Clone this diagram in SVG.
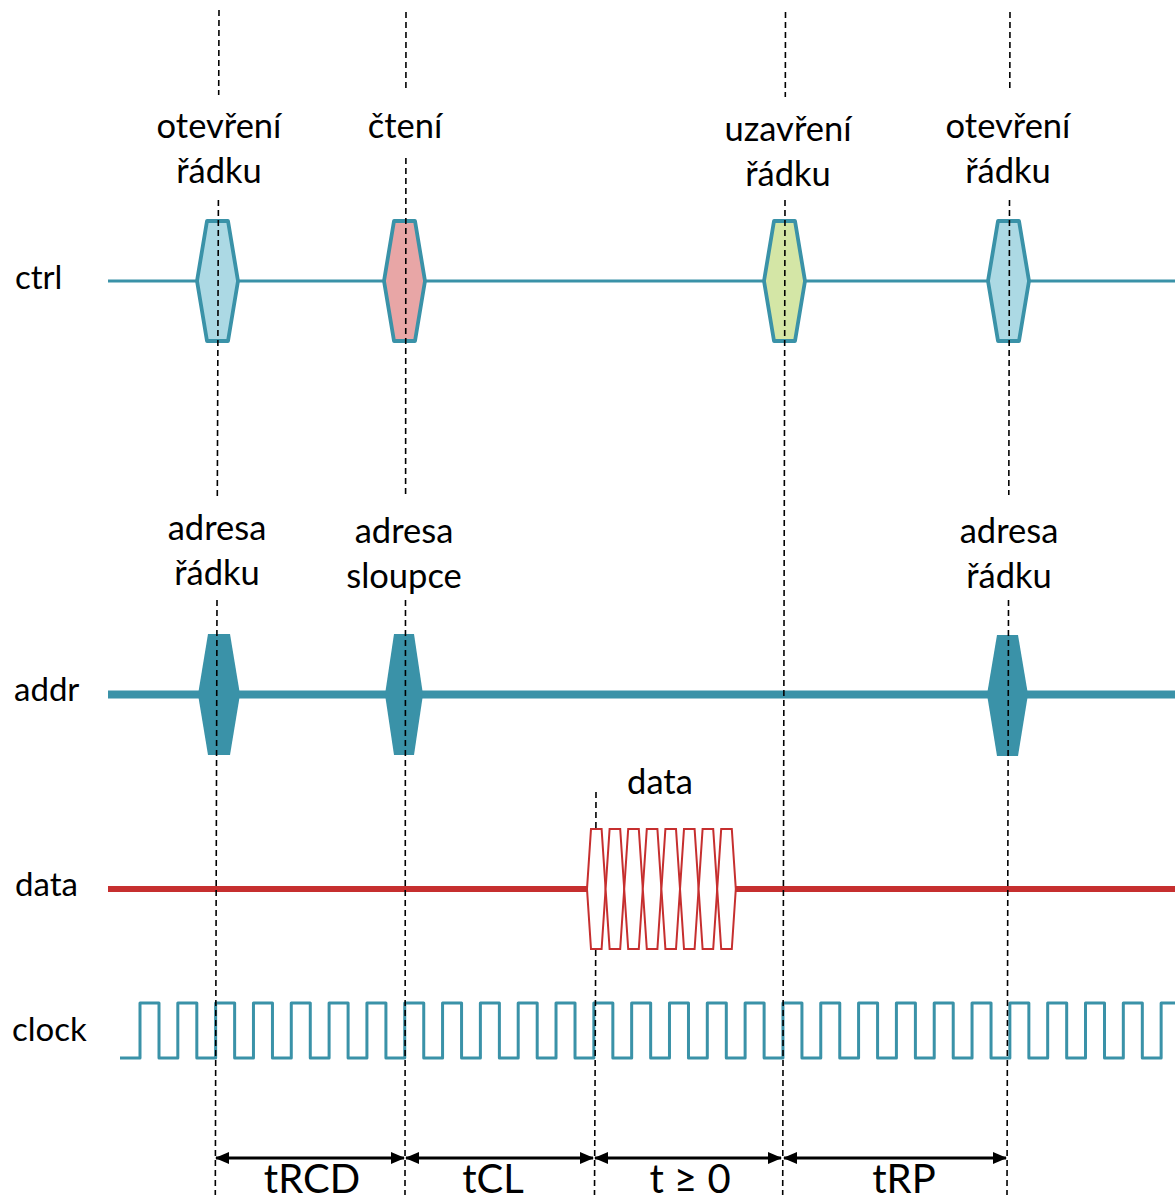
<svg xmlns="http://www.w3.org/2000/svg" width="1175" height="1202" viewBox="0 0 1175 1202">
  <defs>
    <style>
      text { font-family: Lato, "Open Sans", "Liberation Sans", sans-serif; fill: #000; }
      .lbl { font-size: 34.5px; text-anchor: middle; }
      .sig { font-size: 33px; }
      .dur { font-size: 40px; text-anchor: middle; }
      .guide { stroke: #000; stroke-width: 1.6; stroke-dasharray: 6 4; fill: none; }
      .ctrl { stroke: #3a92a8; stroke-width: 3.8; stroke-linejoin: round; }
      .addr { fill: #3a92a8; }
      .burst { fill: #fff; stroke: #c62f2f; stroke-width: 2; }
      .span { stroke: #000; stroke-width: 3; marker-start: url(#head); marker-end: url(#head); }
    </style>
    <marker id="head" viewBox="0 0 14 12" refX="13" refY="6" markerWidth="14" markerHeight="12" markerUnits="userSpaceOnUse" orient="auto-start-reverse">
      <path d="M0,0 L14,6 L0,12 z" fill="#000"/>
    </marker>
  </defs>

  <!-- signal names -->
  <g id="signal-names">
    <text class="sig" x="15" y="289">ctrl</text>
    <text class="sig" x="14" y="701">addr</text>
    <text class="sig" x="15" y="896">data</text>
    <text class="sig" x="12" y="1041">clock</text>
  </g>

  <!-- signal traces -->
  <g id="ctrl-trace">
    <line x1="108" y1="281" x2="1175" y2="281" stroke="#3a92a8" stroke-width="3"/>
  </g>
  <g id="addr-trace">
    <line x1="108" y1="694.5" x2="1175" y2="694.5" stroke="#3a92a8" stroke-width="8"/>
  </g>
  <g id="data-trace">
    <line x1="108" y1="889" x2="588" y2="889" stroke="#c62f2f" stroke-width="6"/>
    <line x1="735" y1="889" x2="1175" y2="889" stroke="#c62f2f" stroke-width="6"/>
  </g>
  <g id="clock-trace">
    <path fill="none" stroke="#3a92a8" stroke-width="3" stroke-linejoin="round"
      d="M120,1058 H140
         v-55h19v55h18.82 v-55h19v55h18.82 v-55h19v55h18.82 v-55h19v55h18.82 v-55h19v55h18.82
         v-55h19v55h18.82 v-55h19v55h18.82 v-55h19v55h18.82 v-55h19v55h18.82 v-55h19v55h18.82
         v-55h19v55h18.82 v-55h19v55h18.82 v-55h19v55h18.82 v-55h19v55h18.82 v-55h19v55h18.82
         v-55h19v55h18.82 v-55h19v55h18.82 v-55h19v55h18.82 v-55h19v55h18.82 v-55h19v55h18.82
         v-55h19v55h18.82 v-55h19v55h18.82 v-55h19v55h18.82 v-55h19v55h18.82 v-55h19v55h18.82
         v-55h19v55h18.82 v-55h19v55h18.82
         v-55 H1175"/>
  </g>

  <!-- control commands -->
  <g id="cmd-open-1">
    <polygon class="ctrl" fill="#acd9e4" points="207,221 228,221 238,281 228,341 207,341 197,281"/>
  </g>
  <g id="cmd-read">
    <polygon class="ctrl" fill="#e8a6a6" points="394,221 415,221 425,281 415,341 394,341 384,281"/>
  </g>
  <g id="cmd-close">
    <polygon class="ctrl" fill="#d4e6a6" points="774,221 795,221 805,281 795,341 774,341 764,281"/>
  </g>
  <g id="cmd-open-2">
    <polygon class="ctrl" fill="#acd9e4" points="998,221 1019,221 1029,281 1019,341 998,341 988,281"/>
  </g>

  <!-- address words -->
  <g id="addr-row-1">
    <polygon class="addr" points="208,634 230,634 240,694.5 230,755 208,755 198,694.5"/>
  </g>
  <g id="addr-col">
    <polygon class="addr" points="394,634 414,634 423,694.5 414,755 394,755 385,694.5"/>
  </g>
  <g id="addr-row-2">
    <polygon class="addr" points="997,635 1018,635 1028,694.5 1018,756 997,756 987,694.5"/>
  </g>

  <!-- data burst: eight beats -->
  <g id="data-burst">
    <polygon class="burst" points="591,829 601.6,829 605.6,889 601.6,949 591,949 587,889"/>
    <polygon class="burst" points="609.6,829 620.2,829 624.2,889 620.2,949 609.6,949 605.6,889"/>
    <polygon class="burst" points="628.2,829 638.8,829 642.8,889 638.8,949 628.2,949 624.2,889"/>
    <polygon class="burst" points="646.8,829 657.4,829 661.4,889 657.4,949 646.8,949 642.8,889"/>
    <polygon class="burst" points="665.4,829 676,829 680,889 676,949 665.4,949 661.4,889"/>
    <polygon class="burst" points="684,829 694.6,829 698.6,889 694.6,949 684,949 680,889"/>
    <polygon class="burst" points="702.6,829 713.2,829 717.2,889 713.2,949 702.6,949 698.6,889"/>
    <polygon class="burst" points="721.2,829 731.8,829 735.8,889 731.8,949 721.2,949 717.2,889"/>
  </g>

  <!-- event labels -->
  <g id="event-labels">
    <text class="lbl" x="219" y="138">otevření</text>
    <text class="lbl" x="219" y="183">řádku</text>
    <text class="lbl" x="405" y="138">čtení</text>
    <text class="lbl" x="788" y="141">uzavření</text>
    <text class="lbl" x="788" y="186">řádku</text>
    <text class="lbl" x="1008" y="138">otevření</text>
    <text class="lbl" x="1008" y="183">řádku</text>
    <text class="lbl" x="217" y="540">adresa</text>
    <text class="lbl" x="217" y="585">řádku</text>
    <text class="lbl" x="404" y="543">adresa</text>
    <text class="lbl" x="404" y="588">sloupce</text>
    <text class="lbl" x="1009" y="543">adresa</text>
    <text class="lbl" x="1009" y="588">řádku</text>
    <text class="lbl" x="660" y="794">data</text>
  </g>

  <!-- guide lines and timing spans -->
  <g id="connectors">
    <line class="guide" x1="219" y1="10" x2="218.7" y2="95"/>
    <line class="guide" x1="218.4" y1="200" x2="217.3" y2="500"/>
    <line class="guide" x1="217" y1="600" x2="215.3" y2="1195"/>

    <line class="guide" x1="406" y1="12" x2="405.9" y2="92"/>
    <line class="guide" x1="405.9" y1="158" x2="405.6" y2="497"/>
    <line class="guide" x1="405.5" y1="600" x2="405" y2="1195"/>

    <line class="guide" x1="785.5" y1="12" x2="785.3" y2="97"/>
    <line class="guide" x1="785" y1="200" x2="782.7" y2="1195"/>

    <line class="guide" x1="1010" y1="12" x2="1009.8" y2="90"/>
    <line class="guide" x1="1009.5" y1="200" x2="1008.8" y2="495"/>
    <line class="guide" x1="1008.5" y1="600" x2="1007" y2="1195"/>

    <line class="guide" x1="596" y1="792" x2="595.9" y2="828"/>
    <line class="guide" x1="595.7" y1="950" x2="594.5" y2="1195"/>

    <line class="span" x1="216" y1="1158" x2="404" y2="1158"/>
    <line class="span" x1="406" y1="1158" x2="593" y2="1158"/>
    <line class="span" x1="595" y1="1158" x2="781" y2="1158"/>
    <line class="span" x1="784" y1="1158" x2="1006" y2="1158"/>
  </g>

  <!-- timing parameters -->
  <g id="timing-labels">
    <text class="dur" x="312" y="1193">tRCD</text>
    <text class="dur" x="493" y="1193">tCL</text>
    <text class="dur" x="690" y="1193">t ≥ 0</text>
    <text class="dur" x="904" y="1193">tRP</text>
  </g>
</svg>
